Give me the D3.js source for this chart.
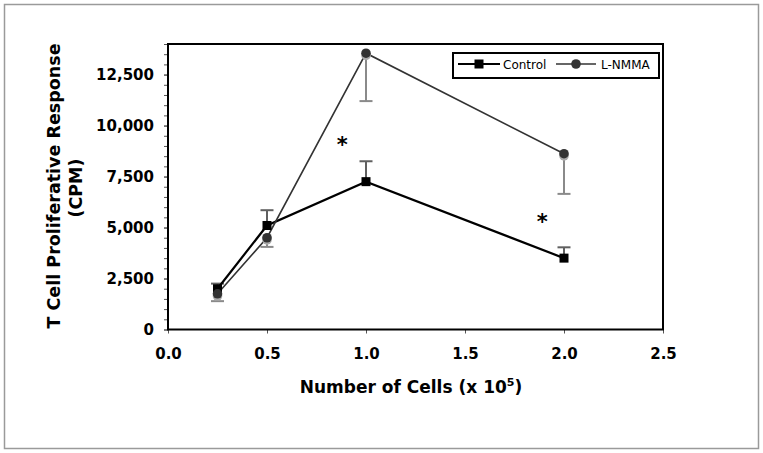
<!DOCTYPE html>
<html>
<head>
<meta charset="utf-8">
<script src="https://cdn.jsdelivr.net/npm/d3@7"></script>
<style>
  body { margin: 0; background: #fff; }
  svg { display: block; }
</style>
</head>
<body>
<svg id="chart" width="763" height="453"></svg>
<script>
// ---- data ----
const cells = [0.25, 0.5, 1.0, 2.0];
const controlValues = [2000, 5100, 7250, 3500];
const controlErrUpper = [2250, 5850, 8250, 4030];
const lnmmaValues = [1750, 4500, 13550, 8620];
const lnmmaErrLower = [1390, 4050, 11200, 6650];
const xTicks = [0, 0.5, 1.0, 1.5, 2.0, 2.5];
const yTicks = [0, 2500, 5000, 7500, 10000, 12500];
const yMinorTicks = d3.range(0, 14001, 500);
const seriesNames = ["Control", "L-NMMA"];
const asterisks = [{x: 0.88, y: 8700}, {x: 1.89, y: 4950}];

const svg = d3.select("#chart");
const font = "'DejaVu Sans', Verdana, sans-serif";

// outer frame
svg.append("rect").attr("x", 4.5).attr("y", 4.5).attr("width", 754).attr("height", 444)
  .attr("fill", "#fff").attr("stroke", "#9a9a9a").attr("stroke-width", 1.5);

const x = d3.scaleLinear().domain([0, 2.5]).range([168, 663]);
const y = d3.scaleLinear().domain([0, 14000]).range([329.5, 44]);

// minor y ticks
svg.append("g").attr("transform", `translate(${x(0)},0)`)
  .call(d3.axisLeft(y).tickValues(yMinorTicks).tickSize(4).tickFormat(""))
  .call(g => g.select(".domain").remove())
  .call(g => g.selectAll("line").attr("stroke", "#555").attr("stroke-width", 1));

// major y axis labels
svg.append("g").attr("transform", `translate(${x(0)},0)`)
  .call(d3.axisLeft(y).tickValues(yTicks).tickSize(4).tickPadding(10).tickFormat(d3.format(",")))
  .call(g => g.select(".domain").remove())
  .call(g => g.selectAll("line").attr("stroke", "#555"))
  .call(g => g.selectAll("text").attr("font-family", font).attr("font-weight", "bold")
    .attr("font-size", 15).attr("fill", "#000"));

// x axis
svg.append("g").attr("transform", `translate(0,${y(0)})`)
  .call(d3.axisBottom(x).tickValues(xTicks).tickSize(4).tickPadding(15).tickFormat(d3.format(".1f")))
  .call(g => g.select(".domain").remove())
  .call(g => g.selectAll("line").attr("stroke", "#555"))
  .call(g => g.selectAll("text").attr("font-family", font).attr("font-weight", "bold")
    .attr("font-size", 15).attr("fill", "#000"));

// plot frame
svg.append("rect").attr("x", x(0)).attr("y", y(14000))
  .attr("width", x(2.5) - x(0)).attr("height", y(0) - y(14000))
  .attr("fill", "none").attr("stroke", "#000").attr("stroke-width", 2);

// error bars
const capW = 6.5;
function errBar(cx, v, e, color) {
  const g = svg.append("g").attr("stroke", color).attr("stroke-width", 2);
  g.append("line").attr("x1", x(cx)).attr("x2", x(cx)).attr("y1", y(v)).attr("y2", y(e));
  g.append("line").attr("x1", x(cx) - capW).attr("x2", x(cx) + capW).attr("y1", y(e)).attr("y2", y(e));
}
cells.forEach((c, i) => errBar(c, controlValues[i], controlErrUpper[i], "#606060"));
cells.forEach((c, i) => errBar(c, lnmmaValues[i], lnmmaErrLower[i], "#8a8a8a"));

const line = d3.line().x(d => x(d[0])).y(d => y(d[1]));
const ctrlPts = cells.map((c, i) => [c, controlValues[i]]);
const lnPts = cells.map((c, i) => [c, lnmmaValues[i]]);

svg.append("path").datum(ctrlPts).attr("d", line).attr("fill", "none")
  .attr("stroke", "#000").attr("stroke-width", 2.2);
svg.append("path").datum(lnPts).attr("d", line).attr("fill", "none")
  .attr("stroke", "#333").attr("stroke-width", 1.6);

// markers: control squares
svg.append("g").selectAll("rect").data(ctrlPts).join("rect")
  .attr("x", d => x(d[0]) - 4.5).attr("y", d => y(d[1]) - 4.5)
  .attr("width", 9).attr("height", 9).attr("fill", "#000");
// L-NMMA circles with soft shadow
svg.append("g").selectAll("circle").data(lnPts).join("circle")
  .attr("cx", d => x(d[0])).attr("cy", d => y(d[1]) + 2.2).attr("r", 4.8).attr("fill", "#aaa");
svg.append("g").selectAll("circle").data(lnPts).join("circle")
  .attr("cx", d => x(d[0])).attr("cy", d => y(d[1])).attr("r", 4.8).attr("fill", "#333");

// asterisks
svg.append("g").selectAll("text").data(asterisks).join("text")
  .attr("x", d => x(d.x)).attr("y", d => y(d.y))
  .attr("text-anchor", "middle").attr("font-family", font).attr("font-weight", "bold")
  .attr("font-size", 21).attr("fill", "#000").text("*");

// legend
const lg = svg.append("g");
lg.append("rect").attr("x", 453).attr("y", 53).attr("width", 206).attr("height", 25)
  .attr("fill", "#fff").attr("stroke", "#000").attr("stroke-width", 2);
lg.append("line").attr("x1", 458).attr("x2", 500).attr("y1", 64).attr("y2", 64)
  .attr("stroke", "#000").attr("stroke-width", 2);
lg.append("rect").attr("x", 474.5).attr("y", 59.5).attr("width", 9).attr("height", 9).attr("fill", "#000");
lg.append("text").attr("x", 503).attr("y", 68.5).attr("font-family", font).attr("font-size", 12)
  .attr("fill", "#000").text(seriesNames[0]);
lg.append("line").attr("x1", 556).attr("x2", 596).attr("y1", 64).attr("y2", 64)
  .attr("stroke", "#333").attr("stroke-width", 1.6);
lg.append("circle").attr("cx", 576).attr("cy", 64).attr("r", 4.8).attr("fill", "#333");
lg.append("text").attr("x", 601).attr("y", 68.5).attr("font-family", font).attr("font-size", 12)
  .attr("fill", "#000").text(seriesNames[1]);

// axis titles
const xt = svg.append("text").attr("x", 411).attr("y", 393).attr("text-anchor", "middle")
  .attr("font-family", font).attr("font-weight", "bold").attr("font-size", 17).attr("fill", "#000");
xt.append("tspan").text("Number of Cells (x 10");
xt.append("tspan").attr("font-size", 11).attr("dy", -7).text("5");
xt.append("tspan").attr("dy", 7).text(")");

svg.append("text").attr("transform", "translate(60,186) rotate(-90)").attr("text-anchor", "middle")
  .attr("font-family", font).attr("font-weight", "bold").attr("font-size", 17.5).attr("fill", "#000")
  .text("T Cell Proliferative Response");
svg.append("text").attr("transform", "translate(82,188) rotate(-90)").attr("text-anchor", "middle")
  .attr("font-family", font).attr("font-weight", "bold").attr("font-size", 17.5).attr("fill", "#000")
  .text("(CPM)");
</script>
</body>
</html>
